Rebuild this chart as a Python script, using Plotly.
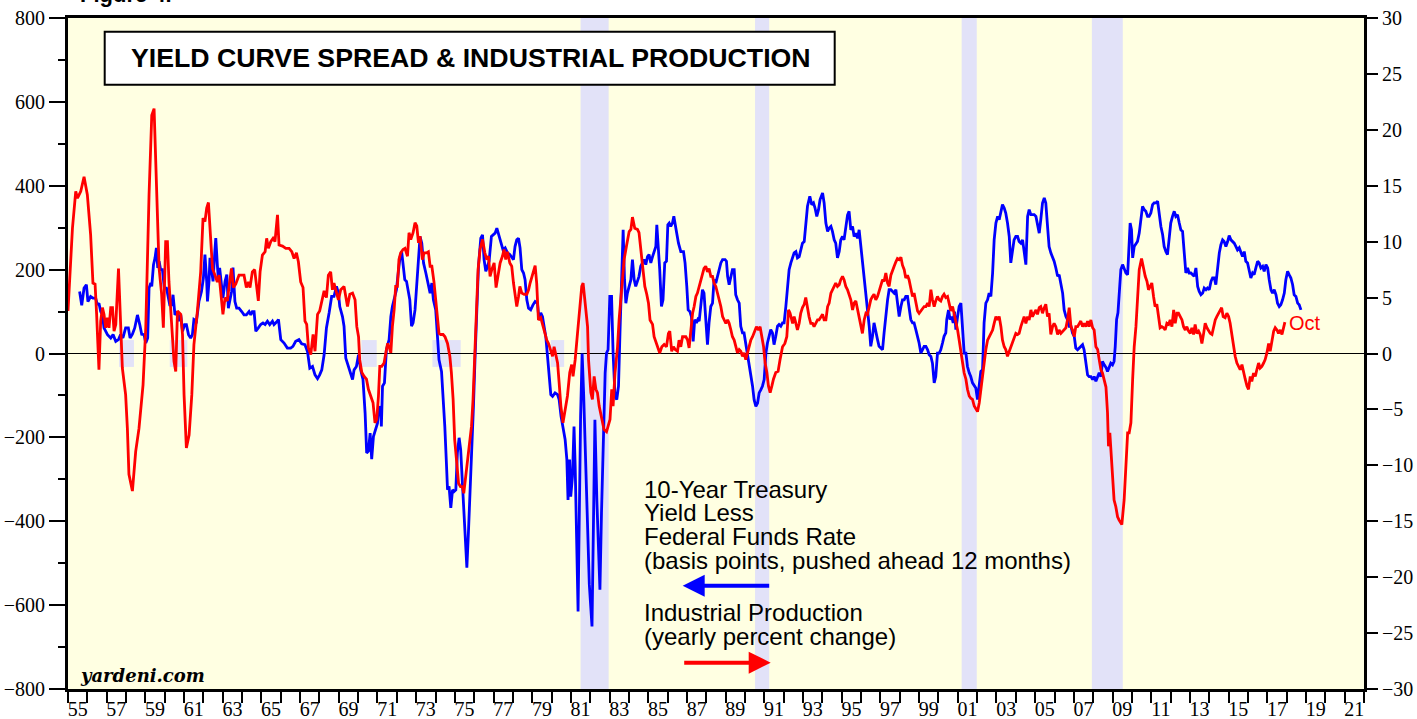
import plotly.graph_objects as go

# ---------------- data ----------------
blue_year = [1955.60,1955.71,1955.83,1955.95,1956.03,1956.17,1956.29,1956.43,1956.52,1956.60,1956.69,1956.78,1956.86,1957.04,1957.21,1957.33,1957.47,1957.61,1957.72,1957.84,1957.98,1958.12,1958.21,1958.33,1958.45,1958.59,1958.71,1958.81,1958.93,1959.02,1959.12,1959.19,1959.28,1959.33,1959.42,1959.50,1959.57,1959.64,1959.71,1959.79,1959.88,1959.98,1960.09,1960.17,1960.26,1960.36,1960.43,1960.53,1960.66,1960.74,1960.83,1960.92,1961.03,1961.12,1961.23,1961.34,1961.43,1961.51,1961.64,1961.77,1961.90,1962.00,1962.08,1962.17,1962.21,1962.29,1962.34,1962.43,1962.50,1962.59,1962.64,1962.72,1962.78,1962.84,1962.93,1963.01,1963.12,1963.21,1963.29,1963.38,1963.46,1963.53,1963.63,1963.72,1963.84,1963.98,1964.10,1964.22,1964.36,1964.45,1964.53,1964.62,1964.71,1964.84,1964.96,1965.08,1965.19,1965.31,1965.43,1965.57,1965.65,1965.78,1965.88,1966.00,1966.17,1966.34,1966.51,1966.63,1966.77,1966.94,1967.08,1967.25,1967.38,1967.50,1967.64,1967.77,1967.90,1968.01,1968.12,1968.24,1968.36,1968.50,1968.63,1968.75,1968.88,1968.98,1969.05,1969.19,1969.27,1969.36,1969.50,1969.62,1969.71,1969.79,1969.91,1970.02,1970.13,1970.25,1970.36,1970.44,1970.53,1970.62,1970.70,1970.79,1970.91,1971.00,1971.08,1971.17,1971.20,1971.26,1971.36,1971.46,1971.60,1971.69,1971.77,1971.89,1971.98,1972.08,1972.17,1972.25,1972.32,1972.41,1972.50,1972.58,1972.67,1972.76,1972.84,1972.94,1973.03,1973.12,1973.20,1973.29,1973.38,1973.50,1973.61,1973.72,1973.81,1973.89,1974.01,1974.10,1974.18,1974.31,1974.39,1974.48,1974.57,1974.62,1974.70,1974.79,1974.88,1974.96,1975.05,1975.13,1975.22,1975.30,1975.39,1975.48,1975.56,1975.62,1975.70,1975.79,1975.87,1975.96,1976.04,1976.13,1976.22,1976.34,1976.43,1976.51,1976.60,1976.69,1976.77,1976.89,1977.00,1977.08,1977.17,1977.25,1977.37,1977.49,1977.60,1977.72,1977.84,1977.94,1978.03,1978.11,1978.20,1978.29,1978.37,1978.46,1978.55,1978.63,1978.72,1978.81,1978.92,1979.04,1979.15,1979.27,1979.35,1979.44,1979.53,1979.61,1979.70,1979.79,1979.87,1979.96,1980.05,1980.18,1980.31,1980.39,1980.49,1980.59,1980.70,1980.79,1980.85,1980.93,1980.99,1981.08,1981.16,1981.22,1981.29,1981.37,1981.50,1981.58,1981.66,1981.80,1981.95,1982.09,1982.18,1982.24,1982.34,1982.50,1982.58,1982.65,1982.71,1982.77,1982.84,1982.92,1983.01,1983.10,1983.18,1983.28,1983.37,1983.46,1983.54,1983.63,1983.70,1983.77,1983.84,1983.92,1984.01,1984.10,1984.18,1984.27,1984.35,1984.44,1984.52,1984.61,1984.70,1984.78,1984.87,1984.96,1985.04,1985.13,1985.22,1985.30,1985.39,1985.44,1985.53,1985.59,1985.68,1985.76,1985.85,1985.94,1986.01,1986.08,1986.16,1986.25,1986.32,1986.39,1986.47,1986.56,1986.68,1986.82,1986.90,1986.99,1987.06,1987.15,1987.23,1987.32,1987.40,1987.49,1987.56,1987.63,1987.71,1987.80,1987.88,1987.97,1988.06,1988.14,1988.23,1988.32,1988.40,1988.49,1988.58,1988.66,1988.75,1988.84,1988.97,1989.04,1989.10,1989.18,1989.27,1989.35,1989.44,1989.52,1989.61,1989.70,1989.78,1989.87,1989.95,1990.04,1990.13,1990.21,1990.30,1990.39,1990.47,1990.56,1990.65,1990.73,1990.82,1990.90,1990.99,1991.08,1991.16,1991.25,1991.33,1991.42,1991.50,1991.59,1991.68,1991.76,1991.85,1991.94,1992.02,1992.11,1992.20,1992.28,1992.37,1992.46,1992.54,1992.63,1992.71,1992.80,1992.88,1992.97,1993.06,1993.14,1993.23,1993.35,1993.45,1993.54,1993.62,1993.71,1993.80,1993.88,1994.01,1994.09,1994.18,1994.27,1994.35,1994.44,1994.52,1994.61,1994.69,1994.78,1994.87,1994.95,1995.04,1995.12,1995.21,1995.30,1995.38,1995.47,1995.56,1995.64,1995.73,1995.82,1995.90,1995.99,1996.07,1996.16,1996.25,1996.33,1996.42,1996.50,1996.59,1996.67,1996.76,1996.85,1996.93,1997.02,1997.11,1997.19,1997.28,1997.37,1997.45,1997.54,1997.63,1997.71,1997.80,1997.88,1997.97,1998.06,1998.14,1998.23,1998.31,1998.40,1998.48,1998.57,1998.66,1998.74,1998.83,1998.92,1999.00,1999.09,1999.18,1999.26,1999.35,1999.44,1999.52,1999.61,1999.69,1999.78,1999.86,1999.95,2000.04,2000.12,2000.21,2000.29,2000.38,2000.43,2000.52,2000.60,2000.69,2000.76,2000.83,2000.90,2000.99,2001.07,2001.16,2001.25,2001.33,2001.42,2001.50,2001.59,2001.67,2001.76,2001.85,2001.93,2002.02,2002.11,2002.19,2002.28,2002.36,2002.45,2002.54,2002.62,2002.71,2002.80,2002.88,2002.97,2003.06,2003.14,2003.23,2003.31,2003.40,2003.48,2003.57,2003.66,2003.74,2003.83,2003.91,2004.00,2004.09,2004.17,2004.26,2004.35,2004.43,2004.52,2004.61,2004.69,2004.78,2004.86,2004.95,2005.04,2005.12,2005.21,2005.29,2005.38,2005.47,2005.55,2005.64,2005.72,2005.81,2005.90,2005.98,2006.07,2006.16,2006.24,2006.33,2006.42,2006.50,2006.59,2006.67,2006.76,2006.85,2006.93,2007.02,2007.10,2007.19,2007.28,2007.36,2007.45,2007.53,2007.62,2007.71,2007.79,2007.88,2007.97,2008.05,2008.14,2008.23,2008.31,2008.40,2008.48,2008.57,2008.66,2008.74,2008.83,2008.91,2009.00,2009.08,2009.14,2009.21,2009.28,2009.34,2009.43,2009.52,2009.60,2009.69,2009.78,2009.86,2009.91,2009.98,2010.04,2010.12,2010.21,2010.29,2010.38,2010.47,2010.55,2010.64,2010.72,2010.81,2010.89,2010.98,2011.07,2011.15,2011.24,2011.33,2011.41,2011.50,2011.59,2011.67,2011.76,2011.84,2011.93,2012.01,2012.10,2012.19,2012.27,2012.36,2012.45,2012.53,2012.62,2012.70,2012.79,2012.88,2012.96,2013.05,2013.14,2013.22,2013.31,2013.40,2013.48,2013.57,2013.66,2013.74,2013.83,2013.91,2014.00,2014.09,2014.17,2014.26,2014.34,2014.43,2014.52,2014.60,2014.69,2014.77,2014.86,2014.95,2015.03,2015.12,2015.21,2015.29,2015.38,2015.46,2015.55,2015.64,2015.72,2015.81,2015.89,2015.98,2016.07,2016.15,2016.24,2016.32,2016.41,2016.50,2016.58,2016.67,2016.76,2016.84,2016.93,2017.02,2017.10,2017.19,2017.27,2017.36,2017.45,2017.53,2017.62,2017.70,2017.79,2017.88,2017.96,2018.05,2018.13,2018.22,2018.31,2018.39,2018.48,2018.57,2018.65,2018.74]
blue_bp = [148,115,156,164,124,136,132,132,116,120,100,92,61,45,37,45,29,33,45,37,61,61,37,46,61,92,69,46,45,25,37,156,168,160,212,228,252,204,220,200,200,156,156,132,116,116,140,92,100,77,92,53,69,69,45,37,45,81,77,124,148,180,236,172,124,172,228,196,172,243,275,212,172,204,164,132,172,188,108,132,148,205,124,108,108,100,92,92,100,92,100,100,53,61,69,73,69,77,69,77,69,75,81,33,25,13,13,17,29,33,23,21,5,-35,-31,-51,-60,-51,-39,-3,61,97,136,136,160,144,112,88,65,-11,-31,-51,-62,-39,-31,-3,-39,-62,-142,-237,-233,-190,-252,-198,-182,-166,-126,-134,-174,-78,-70,9,33,88,112,136,152,196,231,243,208,176,172,152,128,65,73,104,168,240,279,263,216,192,168,144,168,128,104,49,-15,-43,-94,-174,-269,-325,-317,-368,-325,-329,-325,-237,-201,-229,-309,-388,-468,-511,-428,-333,-237,-126,-15,104,208,275,283,224,196,208,220,279,283,287,299,287,267,247,252,240,236,231,224,255,271,275,252,200,192,176,128,108,104,116,124,120,81,97,88,65,41,-7,-55,-98,-102,-94,-98,-110,-150,-174,-205,-253,-349,-253,-341,-293,-174,-269,-428,-615,-150,0,-100,-350,-550,-651,-350,-158,-350,-563,-380,-250,-190,-46,1,9,136,136,1,-102,-110,-78,57,176,295,176,120,144,160,176,224,176,160,176,184,208,216,224,212,231,236,216,231,243,255,307,255,200,112,128,216,220,307,311,303,311,327,311,287,263,243,243,216,160,104,100,88,29,81,73,81,77,120,152,144,81,21,73,112,120,176,168,184,200,216,224,224,220,184,164,180,200,200,140,128,120,65,49,49,25,1,-23,-46,-78,-110,-126,-118,-94,-86,-78,-62,1,25,41,57,49,21,41,65,69,65,73,73,112,168,200,216,228,240,243,228,231,247,263,267,303,351,375,355,359,347,327,343,367,383,359,311,291,299,303,291,271,263,228,243,271,279,271,300,330,339,295,303,279,287,275,295,255,228,176,136,97,65,17,41,73,49,33,17,13,9,49,97,128,152,152,148,144,152,120,88,112,128,128,136,136,112,81,73,73,57,41,25,1,9,17,17,9,-3,-7,-23,-70,-55,1,1,9,25,41,49,81,104,81,88,73,100,57,88,112,120,65,1,1,-31,-46,-55,-70,-78,-82,-110,-78,-43,-39,73,120,128,144,136,192,271,311,327,319,335,355,347,335,311,279,216,240,271,279,279,267,263,271,240,212,327,343,331,331,331,327,311,287,319,359,371,359,303,255,240,231,220,204,184,188,168,144,104,88,81,65,65,49,41,13,9,13,17,21,9,-23,-51,-55,-55,-62,-55,-66,-55,-46,-55,-19,-27,-33,-43,-31,-23,-27,-19,17,81,97,152,200,212,200,192,188,271,311,295,228,255,263,267,287,327,351,343,339,327,327,335,355,359,359,363,327,303,283,255,243,236,275,311,327,339,327,331,311,295,291,247,192,204,192,192,188,184,204,160,148,140,144,156,152,156,152,172,180,180,164,208,240,259,271,267,255,267,281,271,267,263,255,247,252,243,231,243,220,216,200,180,192,188,204,220,216,204,208,196,212,204,176,152,144,152,140,120,112,116,128,144,176,196,188,180,164,140,136,120,116,104]

red_year = [1955.00,1955.23,1955.40,1955.49,1955.66,1955.83,1956.00,1956.17,1956.29,1956.40,1956.48,1956.60,1956.69,1956.78,1956.86,1956.95,1957.04,1957.12,1957.21,1957.30,1957.38,1957.47,1957.61,1957.69,1957.81,1957.98,1958.07,1958.15,1958.33,1958.50,1958.67,1958.88,1959.02,1959.19,1959.33,1959.45,1959.57,1959.71,1959.84,1959.93,1960.05,1960.14,1960.22,1960.36,1960.48,1960.57,1960.66,1960.83,1960.92,1961.00,1961.12,1961.26,1961.40,1961.51,1961.69,1961.86,1961.98,1962.08,1962.17,1962.26,1962.34,1962.47,1962.60,1962.72,1962.81,1962.90,1963.01,1963.12,1963.24,1963.32,1963.45,1963.55,1963.67,1963.84,1964.10,1964.22,1964.33,1964.41,1964.53,1964.65,1964.74,1964.84,1964.93,1965.05,1965.19,1965.27,1965.36,1965.48,1965.60,1965.70,1965.83,1965.91,1966.09,1966.26,1966.43,1966.57,1966.69,1966.81,1966.91,1967.03,1967.15,1967.25,1967.34,1967.43,1967.55,1967.67,1967.77,1967.90,1968.01,1968.12,1968.24,1968.36,1968.46,1968.58,1968.67,1968.75,1968.84,1968.98,1969.10,1969.27,1969.45,1969.57,1969.71,1969.84,1969.93,1970.02,1970.08,1970.19,1970.31,1970.43,1970.53,1970.65,1970.77,1970.87,1970.96,1971.05,1971.12,1971.22,1971.34,1971.43,1971.52,1971.60,1971.69,1971.77,1971.86,1971.94,1972.03,1972.11,1972.20,1972.32,1972.42,1972.55,1972.63,1972.72,1972.84,1972.94,1973.03,1973.12,1973.20,1973.32,1973.41,1973.53,1973.63,1973.72,1973.81,1973.92,1974.01,1974.10,1974.18,1974.27,1974.39,1974.49,1974.62,1974.74,1974.82,1974.91,1974.99,1975.10,1975.19,1975.29,1975.39,1975.46,1975.56,1975.65,1975.73,1975.86,1975.94,1976.03,1976.12,1976.20,1976.30,1976.43,1976.55,1976.65,1976.74,1976.82,1976.91,1977.03,1977.13,1977.23,1977.34,1977.46,1977.54,1977.63,1977.72,1977.84,1977.94,1978.03,1978.11,1978.20,1978.29,1978.36,1978.46,1978.58,1978.72,1978.81,1978.89,1979.01,1979.15,1979.23,1979.32,1979.44,1979.56,1979.66,1979.75,1979.84,1979.96,1980.05,1980.13,1980.22,1980.31,1980.39,1980.48,1980.59,1980.70,1980.82,1980.94,1981.04,1981.11,1981.22,1981.34,1981.46,1981.56,1981.63,1981.73,1981.86,1981.91,1982.03,1982.11,1982.20,1982.29,1982.37,1982.46,1982.60,1982.71,1982.84,1982.94,1983.02,1983.11,1983.18,1983.28,1983.41,1983.49,1983.63,1983.75,1983.87,1984.01,1984.10,1984.18,1984.30,1984.44,1984.52,1984.61,1984.70,1984.82,1984.92,1985.01,1985.09,1985.22,1985.30,1985.42,1985.53,1985.59,1985.70,1985.82,1985.94,1986.04,1986.11,1986.21,1986.30,1986.39,1986.51,1986.59,1986.68,1986.77,1986.94,1987.03,1987.11,1987.20,1987.29,1987.37,1987.46,1987.54,1987.63,1987.71,1987.80,1987.88,1987.97,1988.06,1988.14,1988.23,1988.32,1988.40,1988.49,1988.58,1988.66,1988.75,1988.84,1988.92,1989.01,1989.10,1989.18,1989.27,1989.35,1989.44,1989.52,1989.61,1989.70,1989.78,1989.87,1989.95,1990.04,1990.13,1990.21,1990.30,1990.39,1990.47,1990.59,1990.70,1990.78,1990.87,1990.96,1991.04,1991.13,1991.21,1991.30,1991.39,1991.47,1991.59,1991.71,1991.81,1991.94,1992.06,1992.16,1992.25,1992.33,1992.46,1992.54,1992.63,1992.71,1992.80,1992.88,1992.97,1993.06,1993.14,1993.23,1993.31,1993.40,1993.49,1993.57,1993.66,1993.75,1993.83,1993.92,1994.01,1994.09,1994.18,1994.27,1994.35,1994.44,1994.52,1994.61,1994.69,1994.78,1994.87,1994.95,1995.04,1995.12,1995.21,1995.30,1995.38,1995.47,1995.56,1995.64,1995.73,1995.82,1995.90,1995.99,1996.07,1996.16,1996.25,1996.33,1996.42,1996.50,1996.59,1996.67,1996.76,1996.85,1996.93,1997.02,1997.11,1997.19,1997.28,1997.37,1997.45,1997.54,1997.63,1997.71,1997.80,1997.88,1997.97,1998.06,1998.14,1998.23,1998.31,1998.40,1998.48,1998.57,1998.66,1998.74,1998.83,1998.92,1999.00,1999.09,1999.18,1999.26,1999.35,1999.44,1999.52,1999.61,1999.69,1999.78,1999.86,1999.95,2000.04,2000.12,2000.21,2000.29,2000.38,2000.47,2000.55,2000.64,2000.73,2000.81,2000.90,2000.99,2001.07,2001.16,2001.25,2001.33,2001.42,2001.50,2001.59,2001.67,2001.76,2001.85,2001.93,2002.02,2002.11,2002.19,2002.28,2002.36,2002.45,2002.54,2002.62,2002.71,2002.80,2002.88,2002.97,2003.06,2003.14,2003.23,2003.31,2003.40,2003.48,2003.57,2003.66,2003.74,2003.83,2003.91,2004.00,2004.09,2004.17,2004.26,2004.35,2004.43,2004.52,2004.61,2004.69,2004.78,2004.86,2004.95,2005.04,2005.12,2005.21,2005.29,2005.38,2005.47,2005.55,2005.64,2005.72,2005.81,2005.90,2005.98,2006.07,2006.16,2006.24,2006.33,2006.42,2006.50,2006.59,2006.67,2006.76,2006.85,2006.93,2007.02,2007.10,2007.19,2007.28,2007.36,2007.45,2007.53,2007.62,2007.71,2007.79,2007.88,2007.97,2008.05,2008.14,2008.23,2008.31,2008.40,2008.48,2008.57,2008.66,2008.74,2008.79,2008.86,2008.91,2009.00,2009.08,2009.17,2009.26,2009.34,2009.48,2009.60,2009.69,2009.78,2009.86,2009.95,2010.04,2010.12,2010.21,2010.29,2010.38,2010.50,2010.58,2010.69,2010.78,2010.86,2010.95,2011.03,2011.12,2011.20,2011.29,2011.38,2011.46,2011.55,2011.64,2011.72,2011.81,2011.90,2011.98,2012.07,2012.16,2012.24,2012.33,2012.41,2012.50,2012.59,2012.67,2012.76,2012.84,2012.93,2013.02,2013.10,2013.19,2013.27,2013.36,2013.45,2013.53,2013.62,2013.71,2013.79,2013.88,2013.96,2014.05,2014.14,2014.22,2014.31,2014.39,2014.48,2014.57,2014.64,2014.72,2014.82,2014.91,2015.00,2015.08,2015.17,2015.26,2015.34,2015.43,2015.52,2015.60,2015.69,2015.77,2015.86,2015.95,2016.03,2016.12,2016.20,2016.29,2016.38,2016.46,2016.55,2016.63,2016.72,2016.81,2016.89,2016.98,2017.07,2017.15,2017.24,2017.33,2017.41,2017.50,2017.58,2017.67,2017.76,2017.84,2017.91]
red_pct = [3.8,11.2,14.5,13.9,14.5,15.8,14.2,10.6,6.3,6.2,3.5,-1.45,2.9,4.1,3.5,2.3,3.2,2.3,4.1,4.1,2.0,2.6,7.6,4.1,-1.3,-3.7,-6.7,-10.8,-12.3,-8.75,-6.7,-2.8,2.3,14.2,21.3,21.9,14.2,7.6,5.3,2.3,10.0,10.0,6.4,2.3,-0.7,-1.6,3.8,3.5,1.7,-3.7,-8.45,-7.3,-3.7,0.8,3.8,7.3,12.1,11.8,13.0,13.5,11.2,7.6,7.0,6.4,7.0,5.3,3.5,5.0,4.7,5.9,7.6,5.9,6.2,7.0,7.0,5.9,6.4,5.9,7.3,7.5,6.4,4.7,7.3,8.8,9.1,10.3,9.4,10.0,10.3,10.0,12.4,9.7,9.6,9.4,9.4,9.1,8.5,9.0,8.2,6.4,5.9,2.9,2.6,0.5,-0.1,1.7,0.2,3.5,3.8,4.7,5.6,5.0,7.0,7.3,5.7,6.3,5.7,4.8,5.7,6.0,4.2,5.3,5.4,4.8,2.4,1.5,-0.55,-1.7,-2.05,-2.3,-3.2,-3.8,-4.4,-6.2,-5.9,-3.8,-1.15,-1.15,-0.85,0.05,0.9,0.6,0.05,2.4,3.9,6.0,6.0,8.4,9.0,9.3,9.4,8.7,10.8,10.2,10.8,11.7,11.4,9.9,10.5,8.4,9.0,9.0,9.1,7.8,7.8,6.4,4.8,3.3,1.8,1.7,1.7,1.5,0.9,-0.25,-1.7,-4.1,-7.7,-9.8,-11.6,-11.9,-11.9,-12.5,-11.0,-9.5,-8.0,-6.5,-4.1,-0.55,3.6,7.5,9.3,10.2,9.0,8.4,8.7,6.9,7.5,8.1,5.9,6.9,8.1,8.7,9.3,8.4,9.1,8.1,7.8,6.3,5.1,4.2,5.1,6.0,5.4,5.3,5.3,5.7,6.3,7.0,7.85,6.3,3.0,3.2,2.4,1.8,1.2,0.9,0.35,-0.25,0.6,-0.25,-0.85,-2.6,-4.7,-6.2,-5.0,-3.8,-1.7,-1.0,-2.05,-0.55,1.8,3.9,6.0,6.3,4.8,2.4,-0.55,-3.5,-4.1,-2.05,-3.2,-3.5,-4.7,-5.9,-6.8,-7.0,-6.5,-5.9,-3.2,-4.7,-1.7,0.6,3.0,6.0,8.4,9.6,10.9,11.1,12.2,11.2,11.1,10.8,9.3,7.8,6.0,5.3,4.5,3.0,2.6,1.5,0.9,0.35,0.05,0.6,0.8,0.6,1.8,2.0,0.2,0.6,0.35,0.2,1.2,0.6,1.5,1.5,1.2,0.5,2.4,3.6,4.2,5.1,5.4,6.0,6.6,7.2,7.6,7.8,7.3,7.6,6.9,6.9,6.3,6.0,5.4,4.8,4.2,3.3,3.0,2.7,3.0,2.7,2.1,1.5,1.2,0.6,0.05,0.35,0.2,-0.25,0.05,-0.55,0.05,0.6,1.2,1.5,1.8,2.4,2.1,2.4,1.5,0.6,-0.85,-1.7,-2.9,-3.5,-2.9,-2.3,-1.7,-1.6,-0.55,0.6,0.9,1.5,3.9,3.6,2.7,3.3,2.7,2.1,2.7,3.6,4.1,4.4,5.0,3.9,3.3,2.7,2.7,2.4,2.7,3.0,3.0,3.3,3.5,3.0,3.0,4.2,4.5,5.4,5.7,6.0,6.3,6.0,6.15,6.6,6.9,6.6,6.0,5.7,5.3,4.8,3.9,4.5,4.7,3.9,3.3,2.7,1.8,3.0,3.6,3.5,4.2,4.8,5.1,5.3,4.8,5.1,5.55,6.0,6.6,6.45,7.2,6.3,6.0,7.0,7.5,7.8,8.2,8.5,8.4,8.6,7.9,7.5,6.75,7.0,6.6,5.7,5.1,5.4,4.5,3.8,3.6,3.8,4.1,4.2,4.2,4.5,4.2,5.7,4.8,4.2,4.7,5.1,4.8,4.7,5.1,5.3,5.0,5.1,4.5,3.8,4.2,3.6,3.0,2.1,1.2,0.35,-0.85,-1.75,-2.3,-3.2,-3.8,-4.0,-4.1,-4.7,-5.0,-5.2,-4.4,-3.2,-2.05,-0.85,0.35,1.2,1.5,1.8,2.1,2.7,3.3,3.0,3.3,2.4,1.2,0.6,0.35,-0.25,0.2,0.6,0.9,1.5,1.8,1.7,1.8,2.4,2.9,3.3,2.7,3.3,3.0,3.9,3.3,3.6,3.9,3.5,4.1,4.2,3.6,4.1,4.4,3.3,3.6,1.7,2.4,2.7,2.4,1.7,2.1,1.8,2.0,2.1,2.3,3.0,4.1,2.4,2.1,1.5,2.4,2.4,2.7,2.9,2.4,2.7,2.4,2.9,2.4,3.0,2.3,2.1,0.6,0.35,-0.55,-1.45,-1.75,-2.3,-3.0,-5.3,-8.3,-7.1,-8.3,-10.7,-13.1,-13.7,-14.6,-14.9,-15.3,-13.1,-10.4,-7.1,-7.1,-6.2,-2.3,0.6,2.4,5.1,7.5,8.5,7.8,6.9,6.45,5.7,6.0,6.3,5.1,4.2,4.4,3.0,2.3,2.4,2.3,2.1,2.7,2.6,3.0,2.4,3.9,2.7,3.6,3.6,3.3,3.0,2.4,2.1,2.4,2.0,1.8,2.3,1.7,2.6,1.8,2.0,1.7,0.9,1.8,2.7,2.3,2.0,1.8,1.7,2.4,3.0,3.3,3.6,3.9,4.1,3.3,3.2,3.6,3.3,2.7,1.5,0.35,-0.25,-0.85,-1.15,-1.45,-1.0,-1.75,-2.3,-2.9,-3.2,-2.05,-2.5,-1.75,-2.05,-1.45,-0.85,-1.3,-1.15,-0.85,-0.55,0.05,0.9,0.2,1.2,2.0,2.3,2.1,1.8,2.1,1.7,2.4,2.8]

# recessions: full-height bands and small near-zero markers
rec_full_start = [1981.50, 1990.52, 2001.20, 2007.93]
rec_full_end = [1982.95, 1991.25, 2001.98, 2009.53]
rec_small_start = [1957.64, 1960.26, 1970.17, 1973.84, 1979.96]
rec_small_end = [1958.41, 1961.17, 1970.96, 1975.30, 1980.65]
rec_small_half = 32

year_ticks = list(range(1955, 2022, 2))
year_labels = [f"{y % 100:02d}" for y in year_ticks]

# ---------------- figure ----------------
BLUE = "#0000FF"
RED = "#FF0000"
BAND = "#E2E2F8"
BG = "#FFFFE2"
SERIF = "Liberation Serif"
SANS = "Liberation Sans"

W, H = 1417, 719
ML, MT, PW, PH = 68, 18, 1296, 671
MR = W - ML - PW
MB = H - MT - PH


def px(x):
    """reference-pixel x -> paper fraction"""
    return (x - 68.3) / PW


def py(y):
    """reference-pixel y -> paper fraction"""
    return (689.3 - y) / PH


fig = go.Figure()
fig.add_trace(go.Scatter(x=blue_year, y=blue_bp, mode="lines",
                         line=dict(color=BLUE, width=2.8), yaxis="y", showlegend=False,
                         hoverinfo="skip"))
fig.add_trace(go.Scatter(x=red_year, y=red_pct, mode="lines",
                         line=dict(color=RED, width=2.8), yaxis="y2", showlegend=False,
                         hoverinfo="skip"))

shapes = []
for s, e in zip(rec_full_start, rec_full_end):
    shapes.append(dict(type="rect", xref="x", yref="paper", x0=s, x1=e, y0=0, y1=1,
                       fillcolor=BAND, line=dict(width=0), layer="below"))
for s, e in zip(rec_small_start, rec_small_end):
    shapes.append(dict(type="rect", xref="x", yref="y", x0=s, x1=e,
                       y0=-rec_small_half, y1=rec_small_half,
                       fillcolor=BAND, line=dict(width=0), layer="below"))
# title box
shapes.append(dict(type="rect", xref="paper", yref="paper", x0=px(105), x1=px(835),
                   y0=py(85), y1=py(32), fillcolor="white",
                   line=dict(color="black", width=2), layer="above"))

annotations = [
    dict(text="<b>YIELD CURVE SPREAD &amp; INDUSTRIAL PRODUCTION</b>", xref="paper", yref="paper",
         x=px(471), y=py(58.5), xanchor="center", yanchor="middle", showarrow=False,
         font=dict(family=SANS, size=26.7, color="black")),
    dict(text="<b>Figure 4.</b>", xref="paper", yref="paper", x=px(78), y=py(9),
         xanchor="left", yanchor="bottom", showarrow=False,
         font=dict(family=SANS, size=22, color="black")),
    dict(text="<b><i>yardeni.com</i></b>", xref="paper", yref="paper", x=px(78), y=py(676),
         xanchor="left", yanchor="middle", showarrow=False,
         font=dict(family="DejaVu Serif", size=18, color="black")),
    dict(text="Oct", xref="paper", yref="paper", x=px(1287), y=py(323),
         xanchor="left", yanchor="middle", showarrow=False,
         font=dict(family=SANS, size=20, color=RED)),
]
legend_lines = [("10-Year Treasury", 490), ("Yield Less", 513), ("Federal Funds Rate", 537),
                ("(basis points, pushed ahead 12 months)", 561),
                ("Industrial Production", 613), ("(yearly percent change)", 637)]
for txt, yy in legend_lines:
    annotations.append(dict(text=txt, xref="paper", yref="paper",
                            x=px(642), y=py(yy),
                            xanchor="left", yanchor="middle", showarrow=False,
                            font=dict(family=SANS, size=24, color="black")))
# arrows
annotations.append(dict(text="", xref="paper", yref="paper", x=px(683),
                        y=py(586), ax=88, ay=0, axref="pixel", ayref="pixel",
                        showarrow=True, arrowhead=2, arrowsize=1.1, arrowwidth=4,
                        arrowcolor=BLUE))
annotations.append(dict(text="", xref="paper", yref="paper", x=px(771),
                        y=py(663), ax=-88, ay=0, axref="pixel", ayref="pixel",
                        showarrow=True, arrowhead=2, arrowsize=1.1, arrowwidth=4,
                        arrowcolor=RED))

tickfont = dict(family=SERIF, size=20, color="black")
fig.update_layout(
    width=W, height=H,
    margin=dict(l=ML, r=MR, t=MT, b=MB, autoexpand=False),
    paper_bgcolor="white", plot_bgcolor=BG,
    shapes=shapes, annotations=annotations,
    xaxis=dict(range=[1955, 2022], showgrid=False, zeroline=False, automargin=False,
               showline=True, linecolor="black", linewidth=3, mirror=True,
               tickmode="array", tickvals=[y + 0.5 for y in year_ticks], ticktext=year_labels,
               ticks="", tickfont=tickfont, ticklabeloverflow="allow",
               minor=dict(tickmode="linear", tick0=1955, dtick=1, ticks="outside",
                          ticklen=11, tickwidth=2, tickcolor="black")),
    yaxis=dict(range=[-800, 800], dtick=200, tick0=0, showgrid=False, automargin=False,
               zeroline=True, zerolinecolor="black", zerolinewidth=1,
               showline=True, linecolor="black", linewidth=3, mirror=True,
               ticks="outside", ticklen=16, tickwidth=2, tickcolor="black",
               tickfont=tickfont, ticklabeloverflow="allow",
               minor=dict(dtick=100, ticks="outside", ticklen=7, tickwidth=2,
                          tickcolor="black")),
    yaxis2=dict(range=[-30, 30], dtick=5, tick0=0, overlaying="y", side="right",
                showgrid=False, zeroline=False, showline=False, automargin=False,
                ticks="outside", ticklen=13, tickwidth=2, tickcolor="black",
                tickfont=tickfont, ticklabeloverflow="allow"),
)

# remove the browser's default 8px page margin so the figure sits at the window origin
fig.write_html("out.html", config={"displayModeBar": False},
               post_script="document.body.style.margin='0px';")
